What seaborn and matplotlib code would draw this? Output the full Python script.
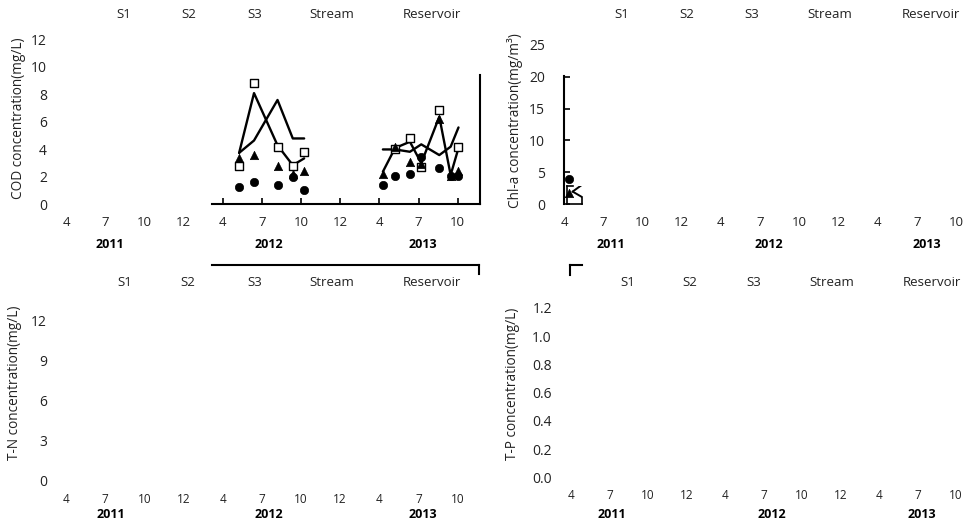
import matplotlib
matplotlib.use("Agg")
import matplotlib.pyplot as plt
import seaborn as sns

# ---------------- data ----------------
months = ['4', '7', '10', '12', '4', '7', '10', '12', '4', '7', '10']
years = ['2011', '2012', '2013']
sites = ['S1', 'S2', 'S3', 'Stream', 'Reservoir']

# sampling positions on the (category-like) time axis
pos_2012 = [4.42, 4.80, 5.40, 5.79, 6.08]
pos_2013 = [8.09, 8.40, 8.78, 9.07, 9.53, 9.82, 10.02]
pos_2013_s3 = [8.40, 8.78, 9.07, 9.53, 10.02]

# COD (mg/L)
cod_s1_2012 = [1.25, 1.6, 1.4, 2.0, 1.05]
cod_s2_2012 = [3.35, 3.6, 2.8, 2.2, 2.4]
cod_s3_2012 = [2.8, 8.8, 4.2, 2.8, 3.8]
cod_stream_2012 = [3.75, 8.1, 4.3, 2.85, 3.35]
cod_res_2012 = [3.75, 4.65, 7.6, 4.8, 4.8]

cod_s1_2013 = [1.4, 2.05, 2.2, 3.45, 2.65, 2.05, 2.05]
cod_s2_2013 = [2.2, 4.2, 3.1, 2.95, 6.25, 2.1, 2.4]
cod_s3_2013 = [4.0, 4.8, 2.75, 6.85, 4.2]
cod_stream_2013 = [4.0, 4.0, 3.83, 4.37, 3.59, 4.2, 5.6]
cod_res_2013 = [2.38, 4.1, 4.56, 3.0, 6.38, 2.14, 4.1]

# Chl-a (mg/m3)
chl_pos = [0.14]
chl_s1 = [3.9]
chl_s2 = [1.8]
chl_line_pos = [0.22, 0.50]
chl_stream = [1.95, 3.2]
chl_res = [1.95, 0.95]

# ---------------- style ----------------
sns.set_theme(style="white")
plt.rcParams['font.family'] = ['Open Sans', 'DejaVu Sans']
plt.rcParams['text.color'] = '#222222'

W, H = 968, 525
fig = plt.figure(figsize=(W / 100, H / 100), dpi=100)
fig.patch.set_facecolor('white')


def box_axes(left, right, top, bottom, xmap, ymap):
    ax = fig.add_axes([left / W, 1 - bottom / H, (right - left) / W, (bottom - top) / H])
    x0, sx = xmap
    y0, sy = ymap
    ax.set_xlim((left - x0) / sx, (right - x0) / sx)
    ax.set_ylim((y0 - bottom) / sy, (y0 - top) / sy)
    ax.patch.set_alpha(0)
    for s in ax.spines.values():
        s.set_visible(False)
        s.set_color('black')
        s.set_linewidth(1.5)
    ax.set_xticks([])
    ax.set_yticks([])
    ax.grid(False)
    return ax


def ftext(x, y, s, **kw):
    fig.text(x / W, 1 - y / H, s, ha='center', va='center', **kw)


def main_panel(left, right, top, bottom, xmap, ymap, yticks, ylabels, xpad, xfs):
    ax = box_axes(left, right, top, bottom, xmap, ymap)
    ax.set_yticks(yticks, ylabels)
    ax.set_xticks(range(len(months)), months)
    ax.tick_params(axis='y', length=0, pad=3, labelsize=10, labelcolor='#222222')
    ax.tick_params(axis='x', length=0, pad=xpad, labelsize=xfs, labelcolor='#222222')
    return ax


# ---------------- top-left: COD ----------------
xmap_l = (66, 39.17)
ymap_tl = (204.4, 13.74)
main_panel(51, 480, 30, 204.4, xmap_l, ymap_tl, [0, 2, 4, 6, 8, 10, 12],
           ['0', '2', '4', '6', '8', '10', '12'], 8.0, 9.5)

axd = box_axes(212.3, 480, 75, 204.4, xmap_l, ymap_tl)
axd.spines['bottom'].set_visible(True)
axd.spines['right'].set_visible(True)
axd.set_xticks([4, 5, 6, 7, 8, 9, 10], [''] * 7)
axd.tick_params(axis='x', direction='in', length=4, width=1.2, color='black', bottom=True)

for xs, ys in [(pos_2012, cod_res_2012), (pos_2012, cod_stream_2012),
               (pos_2013, cod_stream_2013), (pos_2013, cod_res_2013)]:
    sns.lineplot(x=xs, y=ys, ax=axd, color='black', lw=1.7, estimator=None,
                 sort=False, legend=False, zorder=2)
for xs, ys in [(pos_2012, cod_s3_2012), (pos_2013_s3, cod_s3_2013)]:
    sns.scatterplot(x=xs, y=ys, ax=axd, marker='s', s=30, color='white',
                    edgecolor='black', linewidth=1.0, legend=False, zorder=3)
for xs, ys in [(pos_2012, cod_s2_2012), (pos_2013, cod_s2_2013)]:
    sns.scatterplot(x=xs, y=ys, ax=axd, marker='^', s=36, color='black',
                    edgecolor='black', linewidth=0.5, legend=False, zorder=4)
for xs, ys in [(pos_2012, cod_s1_2012), (pos_2013, cod_s1_2013)]:
    sns.scatterplot(x=xs, y=ys, ax=axd, marker='o', s=36, color='black',
                    edgecolor='black', linewidth=0.5, legend=False, zorder=5)

# ---------------- top-right: Chl-a ----------------
xmap_r = (564, 39.2)
ymap_tr = (204, 6.36)
main_panel(549, 968, 30, 204, xmap_r, ymap_tr, [0, 5, 10, 15, 20, 25],
           ['0', '5', '10', '15', '20', '25'], 8.5, 9.5)

axc = box_axes(564.3, 581.7, 76, 204, xmap_r, ymap_tr)
axc.spines['left'].set_visible(True)
axc.set_yticks([0, 5, 10, 15, 20], [''] * 5)
axc.tick_params(axis='y', direction='in', length=4, width=1.2, color='black', left=True)
sns.scatterplot(x=chl_pos, y=chl_s2, ax=axc, marker='^', s=36, color='black',
                edgecolor='black', linewidth=0.5, legend=False, zorder=4)
sns.scatterplot(x=chl_pos, y=chl_s1, ax=axc, marker='o', s=36, color='black',
                edgecolor='black', linewidth=0.5, legend=False, zorder=5)

axc2 = box_axes(566.7, 581.7, 186, 204, xmap_r, ymap_tr)
for k in ['left', 'bottom', 'right', 'top']:
    axc2.spines[k].set_visible(True)
    axc2.spines[k].set_linewidth(1.2)
x_lo, _ = axc2.get_xlim()
y_lo, _ = axc2.get_ylim()
axc2.spines['top'].set_bounds(x_lo, (572.7 - xmap_r[0]) / xmap_r[1])
axc2.spines['right'].set_bounds(y_lo, (ymap_tr[0] - 196.7) / ymap_tr[1])
for ys in [chl_stream, chl_res]:
    sns.lineplot(x=chl_line_pos, y=ys, ax=axc2, color='black', lw=1.4,
                 estimator=None, sort=False, legend=False)

# ---------------- bottom-left: T-N ----------------
ymap_bl = (480, 13.25)
main_panel(51, 480, 300, 480, xmap_l, ymap_bl, [0, 3, 6, 9, 12],
           ['0', '3', '6', '9', '12'], 9.5, 8.5)
axs1 = box_axes(212.3, 479.3, 264.7, 274.3, xmap_l, ymap_bl)
axs1.spines['top'].set_visible(True)
axs1.spines['right'].set_visible(True)

# ---------------- bottom-right: T-P ----------------
xmap_br = (571, 38.5)
ymap_br = (477.3, 141.3)
main_panel(556, 968, 295, 477.3, xmap_br, ymap_br, [0, 0.2, 0.4, 0.6, 0.8, 1.0, 1.2],
           ['0.0', '0.2', '0.4', '0.6', '0.8', '1.0', '1.2'], 8.5, 8.5)
axs2 = box_axes(570, 581.7, 264.5, 275, xmap_br, ymap_br)
axs2.spines['top'].set_visible(True)
axs2.spines['left'].set_visible(True)

# ---------------- texts: legends, years, y-labels ----------------
legend_rows = [
    (15, [124, 189, 255, 332, 432]),
    (15, [621.7, 686.7, 751.3, 830, 930.7]),
    (282.7, [125, 188.3, 255, 332.3, 432.3]),
    (282.7, [627.3, 690, 754, 832.3, 931.7]),
]
for y, xs in legend_rows:
    for x, s in zip(xs, sites):
        ftext(x, y, s, fontsize=9.5)

year_rows = [
    (245, [110, 269, 423]),
    (245, [610.7, 769.3, 926.7]),
    (514, [111, 269.3, 422.7]),
    (515, [612.3, 771.7, 922.3]),
]
for y, xs in year_rows:
    for x, s in zip(xs, years):
        ftext(x, y, s, fontsize=9, fontweight='bold', color='black')

ftext(19, 118, 'COD concentration(mg/L)', fontsize=9.8, rotation=90)
ftext(515, 121, 'Chl-a concentration(mg/m³)', fontsize=9.8, rotation=90)
ftext(15, 383, 'T-N concentration(mg/L)', fontsize=9.8, rotation=90)
ftext(512, 384, 'T-P concentration(mg/L)', fontsize=9.8, rotation=90)

fig.savefig('out.png', dpi=100, facecolor='white')
